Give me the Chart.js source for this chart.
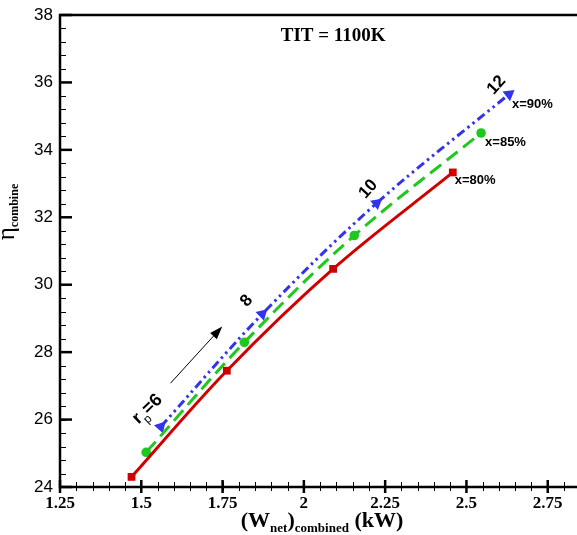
<!DOCTYPE html>
<html>
<head>
<meta charset="utf-8">
<script src="https://cdn.jsdelivr.net/npm/chart.js@4.4.1/dist/chart.umd.min.js"></script>
<style>
  html, body { margin: 0; padding: 0; background: #fff; }
  #wrap { width: 577px; height: 535px; }
</style>
</head>
<body>
<div id="wrap"><canvas id="chart" width="577" height="535"></canvas></div>
<script>
// (W_net)combined in kW against combined efficiency, one curve per x, points at r_p = 6, 8, 10, 12
const pressureRatios = [6, 8, 10, 12];
const seriesLabels = ['x=80%', 'x=85%', 'x=90%'];
const x80 = [1.470, 1.763, 2.090, 2.458];
const y80 = [24.30, 27.45, 30.47, 33.33];
const x85 = [1.515, 1.817, 2.155, 2.545];
const y85 = [25.03, 28.29, 31.46, 34.50];
const x90 = [1.560, 1.872, 2.224, 2.631];
const y90 = [25.79, 29.13, 32.42, 35.65];
const xTicks = [1.25, 1.5, 1.75, 2, 2.25, 2.5, 2.75];
const yTicks = [24, 26, 28, 30, 32, 34, 36, 38];
const titleText = 'TIT = 1100K';

const SERIF = "'Liberation Serif', 'Times New Roman', serif";
const SANS = "'Liberation Sans', Arial, sans-serif";

function pts(xs, ys) {
    return xs.map(function(v, i) { return {x: v, y: ys[i]}; });
}

// draws a run of text pieces, each with its own font and baseline shift
function drawPieces(ctx, pieces, px, py, deg, align) {
    ctx.save();
    ctx.translate(px, py);
    ctx.rotate(deg * Math.PI / 180);
    ctx.textBaseline = 'alphabetic';
    ctx.textAlign = 'left';
    let total = 0;
    pieces.forEach(function(p) { ctx.font = p.font; total += ctx.measureText(p.text).width; });
    let cx = align === 'center' ? -total / 2 : 0;
    pieces.forEach(function(p) {
        ctx.font = p.font;
        ctx.fillText(p.text, cx, p.dy || 0);
        cx += ctx.measureText(p.text).width;
    });
    ctx.restore();
}

const decorations = {
    id: 'decorations',
    afterDraw(chart) {
        const ctx = chart.ctx;
        const a = chart.chartArea;
        const x = chart.scales.x, y = chart.scales.y;
        ctx.save();
        ctx.strokeStyle = '#000';
        ctx.fillStyle = '#000';

        // frame
        ctx.lineWidth = 2.5;
        ctx.beginPath();
        ctx.moveTo(a.right, a.top);
        ctx.lineTo(a.left, a.top);
        ctx.lineTo(a.left, a.bottom);
        ctx.lineTo(a.right, a.bottom);
        ctx.stroke();

        // y ticks, pointing inward
        ctx.lineWidth = 1;
        for (let v = y.min; v <= y.max + 1e-6; v += 0.4) {
            const py = Math.round(y.getPixelForValue(v)) + 0.5;
            ctx.beginPath(); ctx.moveTo(a.left, py); ctx.lineTo(a.left + 6, py); ctx.stroke();
        }
        ctx.lineWidth = 2.5;
        yTicks.forEach(function(v) {
            const py = y.getPixelForValue(v);
            ctx.beginPath(); ctx.moveTo(a.left, py); ctx.lineTo(a.left + 12, py); ctx.stroke();
        });

        // x ticks, crossing the axis
        ctx.lineWidth = 1;
        for (let v = x.min; v <= x.max + 1e-6; v += 0.05) {
            const px = Math.round(x.getPixelForValue(v)) + 0.5;
            ctx.beginPath(); ctx.moveTo(px, a.bottom - 5); ctx.lineTo(px, a.bottom + 4); ctx.stroke();
        }
        ctx.lineWidth = 2.5;
        xTicks.forEach(function(v) {
            const px = x.getPixelForValue(v);
            ctx.beginPath(); ctx.moveTo(px, a.bottom - 7); ctx.lineTo(px, a.bottom + 6); ctx.stroke();
        });

        // axis titles
        drawPieces(ctx, [
            {text: '(W', font: 'bold 22px ' + SERIF},
            {text: 'net', font: 'bold 13px ' + SERIF, dy: 5},
            {text: ')', font: 'bold 22px ' + SERIF},
            {text: 'combined', font: 'bold 13px ' + SERIF, dy: 5},
            {text: ' (kW)', font: 'bold 22px ' + SERIF}
        ], 322, 527, 0, 'center');

        drawPieces(ctx, [
            {text: '\u03b7', font: '25px ' + SERIF},
            {text: 'combine', font: 'bold 12px ' + SERIF, dy: 4}
        ], 14, 212, -90, 'center');

        // heading
        drawPieces(ctx, [{text: titleText, font: 'bold 19px ' + SERIF}],
            x.getPixelForValue(2.09), a.top + 26, 0, 'center');

        // series labels at the last point of each curve
        const ends = [[x80, y80, 2, 12], [x85, y85, 4, 13], [x90, y90, 3, 14]];
        ends.forEach(function(e, i) {
            const n = e[0].length - 1;
            drawPieces(ctx, [{text: seriesLabels[i], font: 'bold 13px ' + SANS}],
                x.getPixelForValue(e[0][n]) + e[2], y.getPixelForValue(e[1][n]) + e[3], 0, 'left');
        });

        // pressure ratio labels along the x=90% curve
        const offs = [[-7, -12], [-12, -10], [-5, -11], [-9, -6]];
        pressureRatios.forEach(function(r, i) {
            const px = x.getPixelForValue(x90[i]) + offs[i][0];
            const py = y.getPixelForValue(y90[i]) + offs[i][1];
            if (i === 0) {
                drawPieces(ctx, [
                    {text: 'r', font: 'bold 18px ' + SANS},
                    {text: 'p', font: '12px ' + SANS, dy: 6},
                    {text: '=' + r, font: 'bold 18px ' + SANS}
                ], px - 3, py - 2, -44, 'center');
            } else {
                drawPieces(ctx, [{text: String(r), font: 'bold 17px ' + SANS}], px, py, -48, 'center');
            }
        });

        // arrow showing increasing r_p
        const t0x = x.getPixelForValue(1.59), t0y = y.getPixelForValue(27.08);
        const t1x = x.getPixelForValue(1.749), t1y = y.getPixelForValue(28.76);
        const ang = Math.atan2(t1y - t0y, t1x - t0x);
        ctx.lineWidth = 1;
        ctx.beginPath();
        ctx.moveTo(t0x, t0y);
        ctx.lineTo(t1x - 10 * Math.cos(ang), t1y - 10 * Math.sin(ang));
        ctx.stroke();
        ctx.beginPath();
        ctx.moveTo(t1x, t1y);
        ctx.lineTo(t1x - 13 * Math.cos(ang) + 4.5 * Math.sin(ang), t1y - 13 * Math.sin(ang) - 4.5 * Math.cos(ang));
        ctx.lineTo(t1x - 13 * Math.cos(ang) - 4.5 * Math.sin(ang), t1y - 13 * Math.sin(ang) + 4.5 * Math.cos(ang));
        ctx.closePath();
        ctx.fill();

        ctx.restore();
    }
};

new Chart(document.getElementById('chart').getContext('2d'), {
    type: 'scatter',
    data: {
        datasets: [
            {
                label: seriesLabels[0],
                data: pts(x80, y80),
                showLine: true,
                tension: 0.35,
                borderColor: '#d10000',
                backgroundColor: '#d10000',
                borderWidth: 3,
                pointStyle: 'rect',
                pointRadius: 5.5,
                pointBorderWidth: 0
            },
            {
                label: seriesLabels[1],
                data: pts(x85, y85),
                showLine: true,
                tension: 0.35,
                borderColor: '#1ec81e',
                backgroundColor: '#1ec81e',
                borderWidth: 3,
                borderDash: [14, 7],
                pointStyle: 'circle',
                pointRadius: 4.8,
                pointBorderWidth: 0
            },
            {
                label: seriesLabels[2],
                data: pts(x90, y90),
                showLine: true,
                tension: 0.35,
                borderColor: '#3333ee',
                backgroundColor: '#3333ee',
                borderWidth: 3,
                borderDash: [9, 4, 2.5, 4, 2.5, 4],
                pointStyle: 'triangle',
                pointRadius: 7,
                pointRotation: [42, 46, 50, 52],
                pointBorderWidth: 0
            }
        ]
    },
    options: {
        responsive: false,
        animation: false,
        layout: { autoPadding: false, padding: { top: 15, right: 0, left: 0, bottom: 0 } },
        plugins: {
            legend: { display: false },
            tooltip: { enabled: false }
        },
        scales: {
            x: {
                type: 'linear',
                min: 1.25,
                max: 2.84,
                grid: { display: false, drawTicks: false },
                border: { display: false },
                afterBuildTicks: function(scale) {
                    scale.ticks = xTicks.map(function(v) { return {value: v}; });
                },
                afterFit: function(scale) {
                    scale.height = 48;
                    scale.paddingLeft = 0;
                    scale.paddingRight = 0;
                },
                ticks: {
                    padding: 6,
                    color: '#000',
                    maxRotation: 0,
                    autoSkip: false,
                    font: { family: SERIF, size: 17, weight: 'bold' },
                    callback: function(v) { return String(v); }
                }
            },
            y: {
                type: 'linear',
                min: 24,
                max: 38,
                grid: { display: false, drawTicks: false },
                border: { display: false },
                afterBuildTicks: function(scale) {
                    scale.ticks = yTicks.map(function(v) { return {value: v}; });
                },
                afterFit: function(scale) {
                    scale.width = 60;
                    scale.paddingTop = 0;
                    scale.paddingBottom = 0;
                },
                ticks: {
                    padding: 7,
                    color: '#000',
                    autoSkip: false,
                    font: { family: SANS, size: 17 },
                    callback: function(v) { return String(v); }
                }
            }
        }
    },
    plugins: [decorations]
});
</script>
</body>
</html>
